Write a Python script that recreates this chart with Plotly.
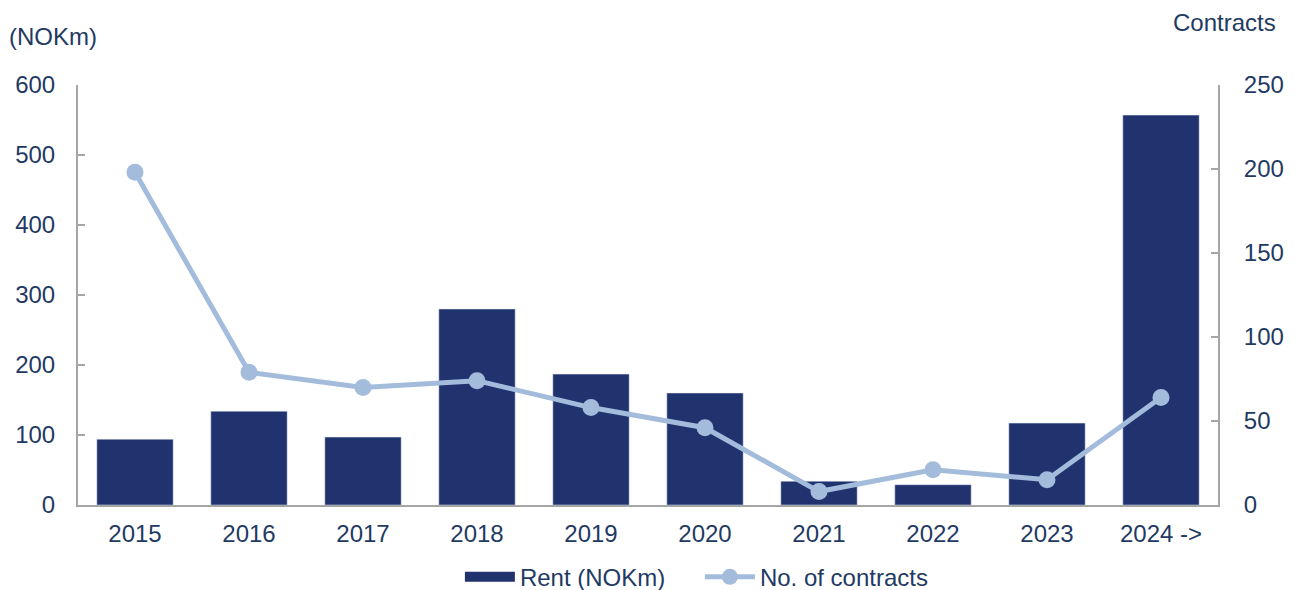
import plotly.graph_objects as go

years = ["2015", "2016", "2017", "2018", "2019", "2020", "2021", "2022", "2023", "2024 ->"]
rent = [94, 134, 97, 280, 187, 160, 34, 29, 117, 557]
contracts = [198, 79, 70, 74, 58, 46, 8, 21, 15, 64]

navy = "#21336E"
light = "#A3BCDC"
txt = "#1F3A63"
axc = "#A6A6A6"
font = "Liberation Sans, Arial, sans-serif"
fs = 24

fig = go.Figure()
fig.add_trace(go.Bar(x=years, y=rent, name="Rent (NOKm)", marker_color=navy, yaxis="y",
                     showlegend=False))
# legend entry styled like the reference's wide bar swatch
fig.add_trace(go.Scatter(x=[None], y=[None], name="Rent (NOKm)", mode="lines",
                         line=dict(color=navy, width=15), yaxis="y"))
fig.add_trace(go.Scatter(x=years, y=contracts, name="No. of contracts", yaxis="y2",
                         mode="lines+markers", line=dict(color=light, width=5),
                         marker=dict(color=light, size=17)))

fig.update_layout(
    width=1295, height=590,
    margin=dict(l=78, r=77, t=85, b=85, autoexpand=False),
    plot_bgcolor="white", paper_bgcolor="white",
    font=dict(family=font, size=fs, color=txt),
    bargap=0.33,
    showlegend=True,
    legend=dict(orientation="h", x=0.335, xanchor="left", y=-0.172, yanchor="middle",
                font=dict(size=fs, color=txt), traceorder="normal", itemwidth=50,
                entrywidth=175, bgcolor="rgba(0,0,0,0)"),
    xaxis=dict(range=[-0.5, 9.5], showline=True, linecolor=axc, linewidth=2, ticks="",
               showgrid=False, ticklabelstandoff=6, tickfont=dict(size=fs, color=txt)),
    yaxis=dict(range=[0, 600], dtick=100, showline=True, linecolor=axc, linewidth=2,
               ticks="inside", ticklen=7, tickcolor=axc, tickwidth=2, showgrid=False,
               zeroline=False, ticklabelstandoff=16, tickfont=dict(size=fs, color=txt)),
    yaxis2=dict(range=[0, 250], dtick=50, overlaying="y", side="right", showline=True,
                linecolor=axc, linewidth=2, ticks="inside", ticklen=7, tickcolor=axc,
                tickwidth=2, showgrid=False, zeroline=False, ticklabelstandoff=19,
                tickfont=dict(size=fs, color=txt)),
    annotations=[
        dict(text="(NOKm)", xref="paper", yref="paper", x=-0.062, y=1.115,
             xanchor="left", yanchor="middle", showarrow=False, font=dict(size=fs, color=txt)),
        dict(text="Contracts", xref="paper", yref="paper", x=1.053, y=1.15,
             xanchor="right", yanchor="middle", showarrow=False, font=dict(size=fs, color=txt)),
    ],
)

fig.write_html("out.html")
